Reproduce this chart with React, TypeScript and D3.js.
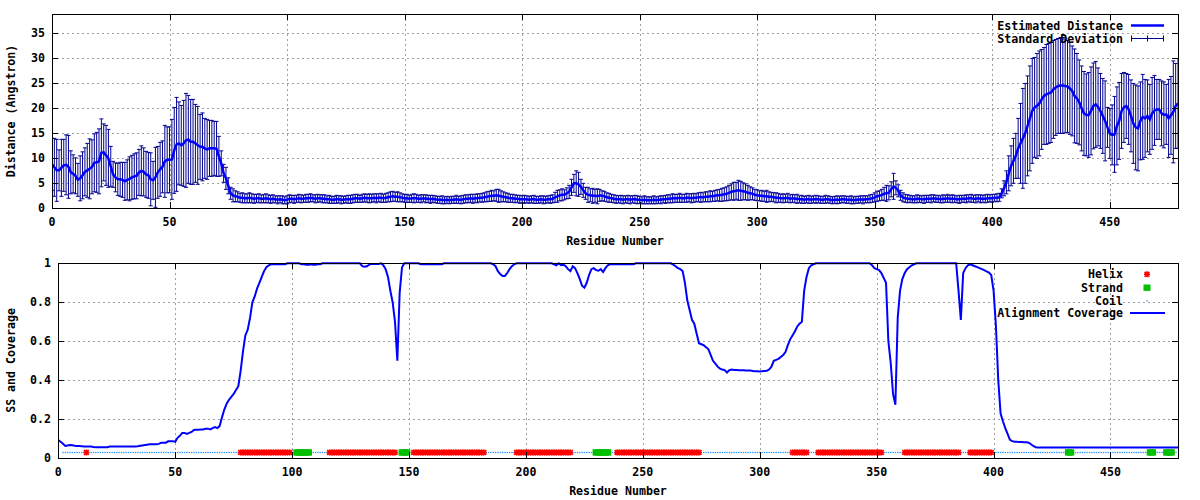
import React from "react";
import * as d3 from "d3";

// ---------- DATA ----------
const xTicks = [0, 50, 100, 150, 200, 250, 300, 350, 400, 450];
const yTicksTop = [0, 5, 10, 15, 20, 25, 30, 35];
const yTicksBot = [0, 0.2, 0.4, 0.6, 0.8, 1];

// Estimated distance (Angstrom), residue 0..479
const distMean = [
  8.8, 8.2, 7.6, 7.6, 8.1, 8.6, 8.7, 8.3, 7.2, 6.9,
  6.5, 5.7, 6.0, 6.6, 7.3, 7.6, 7.9, 8.3, 9.1, 9.2,
  9.4, 11.1, 11.2, 10.6, 10.0, 8.4, 6.8, 6.2, 5.8, 5.8,
  5.7, 5.4, 5.7, 5.9, 6.2, 6.4, 6.5, 7.2, 7.5, 7.3,
  6.8, 6.6, 5.8, 5.6, 6.2, 7.2, 7.8, 8.3, 9.4, 9.7,
  9.7, 9.8, 11.6, 12.8, 13.0, 12.6, 13.0, 13.6, 13.8, 13.3,
  13.3, 13.0, 12.6, 12.3, 12.3, 12.0, 11.8, 12.0, 12.0, 12.0,
  11.9, 10.4, 9.0, 7.0, 6.0, 4.5, 3.0, 2.6, 2.4, 2.3,
  2.1, 2.1, 2.0, 2.0, 2.1, 2.0, 1.9, 2.0, 2.0, 1.9,
  1.9, 2.0, 1.9, 1.8, 1.9, 1.8, 1.7, 1.8, 1.7, 1.6,
  1.7, 1.9, 1.9, 1.8, 1.9, 2.0, 1.9, 1.9, 2.0, 2.0,
  2.1, 2.0, 1.9, 2.0, 2.0, 1.9, 1.9, 1.8, 1.8, 1.7,
  1.7, 1.8, 1.8, 1.7, 1.7, 1.8, 1.8, 1.8, 1.9, 2.0,
  2.0, 1.9, 2.0, 2.1, 2.0, 2.0, 2.0, 2.1, 2.0, 2.1,
  2.1, 2.0, 2.1, 2.2, 2.3, 2.4, 2.3, 2.3, 2.2, 2.1,
  2.0, 2.0, 1.9, 2.0, 2.0, 2.0, 1.9, 1.9, 2.0, 1.9,
  1.9, 1.8, 1.9, 1.8, 1.7, 1.7, 1.7, 1.6, 1.7, 1.6,
  1.7, 1.7, 1.8, 1.7, 1.7, 1.8, 1.9, 1.9, 2.0, 1.9,
  2.0, 2.0, 2.1, 2.1, 2.2, 2.3, 2.4, 2.5, 2.5, 2.6,
  2.5, 2.4, 2.3, 2.2, 2.1, 2.0, 2.0, 1.9, 1.9, 1.8,
  1.8, 1.8, 1.8, 1.7, 1.8, 1.8, 1.7, 1.7, 1.8, 1.7,
  1.7, 1.8, 1.8, 1.9, 2.2, 2.4, 2.6, 2.7, 2.7, 3.0,
  3.3, 4.2, 5.0, 5.0, 4.8, 4.3, 3.6, 3.0, 2.7, 2.6,
  2.5, 2.5, 2.4, 2.6, 2.5, 2.4, 2.2, 2.1, 2.0, 1.9,
  1.8, 1.8, 1.8, 1.7, 1.8, 1.8, 1.7, 1.8, 1.8, 1.7,
  1.7, 1.6, 1.7, 1.6, 1.6, 1.6, 1.7, 1.6, 1.7, 1.7,
  1.8, 1.8, 1.9, 1.9, 2.0, 2.0, 2.0, 2.1, 2.0, 2.0,
  2.1, 2.1, 2.0, 2.1, 2.1, 2.2, 2.2, 2.2, 2.3, 2.3,
  2.4, 2.4, 2.5, 2.6, 2.6, 2.7, 2.8, 2.9, 3.1, 3.3,
  3.4, 3.5, 3.6, 3.5, 3.4, 3.3, 3.1, 3.0, 2.9, 2.7,
  2.6, 2.5, 2.5, 2.4, 2.4, 2.3, 2.3, 2.2, 2.1, 2.1,
  2.0, 2.0, 2.0, 2.1, 1.9, 2.0, 1.9, 1.9, 1.8, 1.8,
  1.7, 1.8, 1.8, 1.7, 1.8, 1.8, 1.8, 1.7, 1.7, 1.8,
  1.8, 1.7, 1.6, 1.7, 1.7, 1.7, 1.8, 1.8, 1.7, 1.7,
  1.7, 1.6, 1.7, 1.7, 1.8, 1.7, 1.8, 1.8, 1.9, 2.0,
  2.2, 2.4, 2.5, 2.7, 2.9, 3.0, 3.1, 3.8, 4.4, 4.1,
  3.5, 2.6, 2.2, 2.0, 1.9, 1.9, 1.8, 1.8, 1.9, 1.9,
  1.8, 1.8, 1.9, 1.9, 1.9, 2.0, 1.9, 1.9, 1.8, 1.9,
  1.9, 2.0, 1.9, 1.9, 1.9, 1.8, 1.8, 1.9, 1.9, 1.9,
  2.0, 2.0, 1.9, 1.9, 2.0, 1.9, 1.9, 1.9, 2.0, 2.0,
  2.0, 2.1, 2.1, 2.2, 3.0, 4.0, 5.2, 7.0, 8.5, 9.5,
  10.5, 12.0, 13.0, 14.0, 15.0, 16.5, 18.0, 19.5, 20.2, 20.5,
  21.0, 21.8, 22.5, 22.8, 23.0, 23.2, 23.8, 24.2, 24.5, 24.6,
  24.6, 24.5, 24.4, 24.0, 23.5, 22.5, 22.0, 21.2, 20.0, 19.0,
  18.7, 18.7, 19.5, 20.5, 20.8, 20.3, 19.5, 18.5, 17.5, 16.2,
  15.0, 14.7, 14.8, 16.5, 17.5, 19.5, 20.2, 20.5, 19.8, 18.5,
  17.0, 16.2, 16.0, 17.5, 18.3, 18.0, 18.5, 17.8, 19.0, 19.6,
  19.8, 19.8, 19.0, 18.7, 18.8, 18.0, 18.6, 19.3, 20.5, 21.0,
];

// Standard deviation, residue 0..479
const distSd = [
  5.2, 5.8, 6.2, 4.1, 5.7, 5.2, 6.0, 6.3, 4.3, 3.8,
  3.6, 3.3, 4.5, 4.7, 4.8, 5.4, 6.0, 5.4, 5.8, 6.0,
  6.5, 6.8, 5.7, 6.0, 5.8, 4.0, 2.6, 2.9, 3.2, 3.4,
  3.5, 3.8, 4.0, 4.4, 4.4, 4.5, 4.6, 4.6, 5.0, 4.8,
  4.6, 4.6, 5.3, 3.8, 6.0, 5.2, 5.4, 5.2, 7.2, 6.6,
  6.6, 8.0, 8.6, 9.4, 8.3, 8.0, 8.6, 9.4, 8.8, 8.5,
  8.5, 7.8, 7.8, 6.5, 6.8, 6.0, 6.0, 5.6, 5.6, 5.4,
  5.5, 4.0, 2.5, 1.8, 2.2, 1.6, 1.2, 1.3, 1.1, 1.0,
  0.9, 1.0, 0.9, 0.9, 1.0, 0.9, 0.9, 0.8, 0.9, 0.8,
  0.8, 0.9, 0.8, 0.8, 0.8, 0.7, 0.8, 0.7, 0.8, 0.7,
  0.8, 0.8, 0.7, 0.8, 0.7, 0.8, 0.8, 0.7, 0.8, 0.8,
  0.8, 0.7, 0.8, 0.8, 0.7, 0.8, 0.8, 0.7, 0.8, 0.7,
  0.7, 0.8, 0.7, 0.8, 0.7, 0.7, 0.8, 0.8, 0.8, 0.8,
  0.8, 0.7, 0.8, 0.8, 0.8, 0.9, 0.8, 0.8, 0.9, 0.8,
  0.9, 0.8, 0.9, 0.9, 1.0, 1.0, 0.9, 1.0, 0.9, 0.8,
  0.8, 0.8, 0.7, 0.8, 0.9, 0.8, 0.7, 0.8, 0.7, 0.8,
  0.7, 0.8, 0.7, 0.7, 0.7, 0.7, 0.8, 0.7, 0.7, 0.7,
  0.7, 0.7, 0.8, 0.7, 0.8, 0.8, 0.8, 0.8, 0.8, 0.9,
  0.8, 0.9, 0.8, 0.9, 0.9, 1.0, 1.0, 1.1, 1.0, 1.2,
  1.3, 1.1, 1.0, 0.9, 0.9, 0.8, 0.8, 0.8, 0.7, 0.8,
  0.7, 0.8, 0.7, 0.7, 0.7, 0.8, 0.7, 0.7, 0.7, 0.8,
  0.7, 0.7, 0.8, 0.8, 1.0, 1.2, 1.1, 1.2, 1.0, 1.1,
  1.3, 1.6, 1.8, 2.5, 2.4, 1.5, 1.4, 1.2, 1.5, 1.3,
  1.5, 1.3, 1.5, 1.2, 1.0, 1.0, 0.9, 0.9, 0.8, 0.8,
  0.8, 0.7, 0.8, 0.8, 0.7, 0.8, 0.8, 0.7, 0.8, 0.8,
  0.7, 0.7, 0.8, 0.7, 0.7, 0.7, 0.8, 0.7, 0.7, 0.8,
  0.7, 0.8, 0.8, 0.8, 0.9, 0.8, 0.8, 0.9, 0.8, 0.8,
  0.9, 0.8, 0.9, 0.9, 0.8, 0.9, 1.0, 0.9, 1.0, 1.0,
  1.1, 1.0, 1.1, 1.1, 1.2, 1.3, 1.3, 1.4, 1.5, 1.6,
  1.8, 1.7, 2.0, 1.9, 1.7, 1.6, 1.5, 1.3, 1.2, 1.1,
  1.1, 1.0, 1.1, 1.0, 1.2, 1.0, 0.9, 0.9, 1.0, 0.9,
  0.8, 0.9, 0.8, 0.9, 0.8, 0.8, 0.8, 0.9, 0.7, 0.8,
  0.7, 0.7, 0.8, 0.7, 0.7, 0.8, 0.7, 0.7, 0.7, 0.8,
  0.7, 0.7, 0.7, 0.7, 0.8, 0.7, 0.7, 0.7, 0.7, 0.7,
  0.8, 0.7, 0.7, 0.7, 0.7, 0.8, 0.7, 0.7, 0.8, 0.8,
  0.9, 1.0, 1.0, 1.1, 1.3, 1.6, 1.4, 1.5, 2.6, 1.4,
  1.2, 1.0, 0.9, 0.8, 0.8, 0.7, 0.7, 0.7, 0.8, 0.7,
  0.7, 0.8, 0.7, 0.7, 0.8, 0.7, 0.7, 0.7, 0.7, 0.8,
  0.7, 0.8, 0.7, 0.8, 0.7, 0.7, 0.8, 0.7, 0.7, 0.8,
  0.7, 0.8, 0.7, 0.8, 0.7, 0.8, 0.7, 0.8, 0.8, 0.7,
  0.8, 0.7, 0.8, 0.8, 0.9, 1.5, 2.3, 3.5, 4.0, 4.5,
  4.5, 6.0, 8.0, 10.0, 10.0, 10.0, 10.5, 10.5, 10.0, 10.5,
  10.5, 10.0, 9.7, 10.0, 10.0, 10.0, 9.8, 9.6, 9.5, 9.6,
  9.6, 9.4, 9.2, 9.2, 9.0, 9.4, 9.0, 8.5, 8.5, 8.4,
  8.2, 8.5, 8.8, 8.6, 8.6, 7.8, 7.5, 7.5, 8.0, 4.0,
  5.0, 6.0, 7.6, 7.8, 7.7, 7.5, 7.0, 6.5, 7.0, 7.2,
  8.0, 8.5, 8.5, 7.8, 8.5, 7.8, 7.2, 7.0, 7.2, 7.0,
  6.0, 6.0, 6.5, 6.6, 6.0, 7.8, 7.8, 10.2, 8.5, 9.0,
];

// Alignment coverage, residue 0..479
const coverage = [
  0.094, 0.085, 0.075, 0.063, 0.066, 0.068, 0.067, 0.064, 0.063, 0.063,
  0.062, 0.061, 0.060, 0.060, 0.060, 0.058, 0.057, 0.057, 0.057, 0.057,
  0.057, 0.057, 0.060, 0.060, 0.060, 0.060, 0.060, 0.060, 0.060, 0.060,
  0.060, 0.060, 0.061, 0.061, 0.062, 0.064, 0.066, 0.068, 0.070, 0.072,
  0.072, 0.072, 0.072, 0.074, 0.080, 0.080, 0.080, 0.087, 0.088, 0.088,
  0.085, 0.105, 0.115, 0.130, 0.130, 0.125, 0.130, 0.135, 0.145, 0.147,
  0.147, 0.148, 0.148, 0.152, 0.152, 0.148, 0.155, 0.160, 0.155, 0.165,
  0.210, 0.250, 0.280, 0.300, 0.315, 0.330, 0.350, 0.370, 0.450, 0.550,
  0.630, 0.660, 0.720, 0.800, 0.830, 0.870, 0.900, 0.930, 0.960, 0.980,
  0.990, 0.995, 0.995, 0.995, 0.995, 0.995, 0.995, 0.995, 1.0, 1.0,
  1.0, 1.0, 1.0, 1.0, 0.995, 0.995, 0.993, 0.993, 0.995, 0.993,
  0.993, 0.995, 0.995, 1.0, 1.0, 1.0, 1.0, 1.0, 1.0, 1.0,
  1.0, 1.0, 1.0, 1.0, 1.0, 1.0, 1.0, 1.0, 1.0, 1.0,
  0.985, 0.982, 0.985, 0.993, 0.997, 0.997, 0.997, 0.997, 1.0, 0.99,
  0.97, 0.93, 0.86, 0.80, 0.70, 0.50, 0.85, 0.98, 1.0, 1.0,
  1.0, 1.0, 1.0, 1.0, 1.0, 0.995, 0.995, 0.995, 0.995, 0.995,
  0.995, 0.995, 0.995, 0.995, 0.995, 1.0, 1.0, 1.0, 1.0, 1.0,
  1.0, 1.0, 1.0, 1.0, 1.0, 1.0, 1.0, 1.0, 1.0, 1.0,
  1.0, 1.0, 1.0, 1.0, 1.0, 1.0, 0.995, 0.985, 0.96, 0.945,
  0.935, 0.935, 0.95, 0.97, 0.985, 0.995, 1.0, 1.0, 1.0, 1.0,
  1.0, 1.0, 1.0, 1.0, 1.0, 1.0, 1.0, 1.0, 1.0, 1.0,
  1.0, 1.0, 0.995, 0.99, 1.0, 0.99, 0.993, 0.985, 0.97, 0.96,
  0.985, 0.975, 0.95, 0.92, 0.885, 0.875, 0.90, 0.94, 0.97, 0.975,
  0.965, 0.962, 0.97, 0.955, 0.975, 0.99, 0.995, 0.995, 0.995, 0.995,
  0.995, 0.995, 0.995, 0.995, 0.995, 0.995, 0.995, 1.0, 1.0, 1.0,
  1.0, 1.0, 1.0, 1.0, 1.0, 1.0, 1.0, 1.0, 1.0, 1.0,
  1.0, 1.0, 1.0, 0.993, 0.985, 0.975, 0.97, 0.96, 0.90, 0.81,
  0.76, 0.71, 0.69, 0.64, 0.59, 0.585, 0.58, 0.57, 0.56, 0.53,
  0.50, 0.485, 0.47, 0.46, 0.455, 0.452, 0.44, 0.452, 0.455, 0.453,
  0.453, 0.452, 0.452, 0.452, 0.450, 0.450, 0.450, 0.448, 0.447, 0.446,
  0.445, 0.447, 0.448, 0.449, 0.455, 0.470, 0.500, 0.505, 0.510, 0.520,
  0.530, 0.545, 0.580, 0.610, 0.630, 0.650, 0.675, 0.690, 0.700, 0.860,
  0.930, 0.975, 0.990, 0.995, 1.0, 1.0, 1.0, 1.0, 1.0, 1.0,
  1.0, 1.0, 1.0, 1.0, 1.0, 1.0, 1.0, 1.0, 1.0, 1.0,
  1.0, 1.0, 1.0, 1.0, 1.0, 1.0, 1.0, 1.0, 0.99, 0.975,
  0.97, 0.965, 0.95, 0.925, 0.90, 0.60, 0.49, 0.33, 0.275, 0.72,
  0.86, 0.92, 0.95, 0.97, 0.98, 0.99, 0.995, 1.0, 1.0, 1.0,
  1.0, 1.0, 1.0, 1.0, 1.0, 1.0, 1.0, 1.0, 1.0, 1.0,
  1.0, 1.0, 1.0, 1.0, 1.0, 0.86, 0.71, 0.95, 0.975, 0.99,
  0.995, 0.99, 0.985, 0.98, 0.975, 0.97, 0.965, 0.958, 0.952, 0.94,
  0.86, 0.68, 0.40, 0.23, 0.19, 0.155, 0.125, 0.095, 0.088, 0.085,
  0.085, 0.083, 0.083, 0.082, 0.082, 0.080, 0.072, 0.063, 0.057, 0.056,
  0.056, 0.056, 0.056, 0.056, 0.056, 0.056, 0.056, 0.056, 0.056, 0.056,
  0.056, 0.056, 0.056, 0.056, 0.056, 0.056, 0.056, 0.056, 0.056, 0.056,
  0.056, 0.056, 0.056, 0.056, 0.056, 0.056, 0.056, 0.056, 0.056, 0.056,
  0.056, 0.056, 0.056, 0.056, 0.056, 0.056, 0.056, 0.056, 0.056, 0.056,
  0.056, 0.056, 0.056, 0.056, 0.056, 0.056, 0.056, 0.056, 0.056, 0.056,
  0.056, 0.056, 0.056, 0.056, 0.056, 0.056, 0.056, 0.056, 0.056, 0.056,
];

// Secondary structure segments [start, end] (residue numbers)
const helixSegments = [
  [12, 12], [78, 99], [116, 144], [152, 182], [196, 219], [239, 274],
  [314, 320], [325, 352], [362, 385], [390, 399],
];
const strandSegments = [
  [102, 107], [147, 149], [230, 235], [432, 433], [467, 468], [474, 476],
];
const coilRange = [2, 478];
const ssLevel = 0.03;

// ---------- STYLE ----------
const FONT = {
  fontFamily: '"DejaVu Sans Mono", "Liberation Mono", monospace',
  fontWeight: "bold" as const,
  fontSize: 11.6,
  fill: "#000",
};
const GRID = "#a0a0a0";
const LINE_BLUE = "#0000ff";
const ERR_BLUE = "#000090";
const HELIX_RED = "#ff0000";
const STRAND_GREEN = "#00c000";
const COIL_BLUE = "#1e8cff";

type Panel = { left: number; right: number; top: number; bottom: number };

function Frame({ p, xs, ys, xt, yt, yfmt }: any) {
  const tl = 6;
  return (
    <g>
      {/* grid */}
      {xt.filter((t: number) => t !== 0).map((t: number) => (
        <line key={"gx" + t} x1={Math.round(xs(t)) + 0.5} x2={Math.round(xs(t)) + 0.5} y1={p.top} y2={p.bottom}
          stroke={GRID} strokeDasharray="2,3" />
      ))}
      {yt.filter((t: number) => t !== 0).map((t: number) => (
        <line key={"gy" + t} x1={p.left} x2={p.right} y1={Math.round(ys(t)) + 0.5} y2={Math.round(ys(t)) + 0.5}
          stroke={GRID} strokeDasharray="2,3" />
      ))}
    </g>
  );
}

function Axes({ p, xs, ys, xt, yt, yfmt, xLabelY, yTitle, xTitleY }: any) {
  const tl = 6;
  return (
    <g>
      <rect x={p.left + 0.5} y={p.top + 0.5} width={p.right - p.left} height={p.bottom - p.top}
        fill="none" stroke="#000" strokeWidth={1} shapeRendering="crispEdges" />
      {xt.map((t: number) => {
        const x = Math.round(xs(t)) + 0.5;
        return (
          <g key={"xt" + t}>
            <line x1={x} x2={x} y1={p.bottom} y2={p.bottom - tl} stroke="#000" shapeRendering="crispEdges" />
            <line x1={x} x2={x} y1={p.top} y2={p.top + tl} stroke="#000" shapeRendering="crispEdges" />
            <text x={xs(t)} y={xLabelY} textAnchor="middle" dominantBaseline="central" {...FONT}>{t}</text>
          </g>
        );
      })}
      {yt.map((t: number) => {
        const y = Math.round(ys(t)) + 0.5;
        return (
          <g key={"yt" + t}>
            <line x1={p.left} x2={p.left + tl} y1={y} y2={y} stroke="#000" shapeRendering="crispEdges" />
            <line x1={p.right} x2={p.right - tl} y1={y} y2={y} stroke="#000" shapeRendering="crispEdges" />
            <text x={p.left - 7} y={ys(t)} textAnchor="end" dominantBaseline="central" {...FONT}>{yfmt(t)}</text>
          </g>
        );
      })}
      <text x={(p.left + p.right) / 2} y={xTitleY} textAnchor="middle" dominantBaseline="central" {...FONT}>
        Residue Number
      </text>
      <text transform={`translate(11,${(p.top + p.bottom) / 2}) rotate(-90)`} textAnchor="middle"
        dominantBaseline="central" {...FONT}>{yTitle}</text>
    </g>
  );
}

function helixPath(x: number, y: number, s: number) {
  return `M${x - s},${y}L${x + s},${y}M${x},${y - s}L${x},${y + s}` +
    `M${x - s * 0.8},${y - s * 0.8}L${x + s * 0.8},${y + s * 0.8}M${x - s * 0.8},${y + s * 0.8}L${x + s * 0.8},${y - s * 0.8}`;
}

export default function App() {
  const topP: Panel = { left: 52, right: 1178, top: 14, bottom: 208 };
  const botP: Panel = { left: 58, right: 1178, top: 263, bottom: 458 };

  const xTop = d3.scaleLinear().domain([0, 479]).range([topP.left, topP.right]);
  const yTop = d3.scaleLinear().domain([0, 38.9]).range([208.3, topP.top]);
  const xBot = d3.scaleLinear().domain([0, 479]).range([58.3, 1178.3]);
  const yBot = d3.scaleLinear().domain([0, 1]).range([458.3, 263.3]);

  const meanLine = d3.line<number>().x((_, i) => xTop(i)).y((d) => yTop(d))(distMean) || "";
  const covLine = d3.line<number>().x((_, i) => xBot(i)).y((d) => yBot(d))(coverage) || "";

  const inSeg = (segs: number[][], r: number) => segs.some(([a, b]) => r >= a && r <= b);
  const helixRes: number[] = [];
  helixSegments.forEach(([a, b]) => { for (let r = a; r <= b; r++) helixRes.push(r); });
  const strandRes: number[] = [];
  strandSegments.forEach(([a, b]) => { for (let r = a; r <= b; r++) strandRes.push(r); });
  const coilRes: number[] = [];
  for (let r = coilRange[0]; r <= coilRange[1]; r++) {
    if (!inSeg(helixSegments, r) && !inSeg(strandSegments, r)) coilRes.push(r);
  }
  const ssY = yBot(ssLevel);
  const fmtBot = (t: number) => (t === 0 ? "0" : t === 1 ? "1" : String(t));

  return (
    <svg width={1200} height={500} style={{ position: "absolute", left: 0, top: 0, background: "#fff" }}>
      <rect width={1200} height={500} fill="#fff" />
      {/* ---------- TOP PANEL ---------- */}
      <Frame p={topP} xs={xTop} ys={yTop} xt={xTicks} yt={yTicksTop} />
      <defs>
        <clipPath id="clipTop"><rect x={topP.left} y={topP.top} width={topP.right - topP.left + 1} height={topP.bottom - topP.top + 1} /></clipPath>
        <clipPath id="clipBot"><rect x={botP.left} y={botP.top - 2} width={botP.right - botP.left + 1} height={botP.bottom - botP.top + 3} /></clipPath>
      </defs>
      <g clipPath="url(#clipTop)">
        {distMean.map((m, i) => {
          const x = xTop(i);
          const y1 = yTop(m + distSd[i]);
          const y2 = yTop(m - distSd[i]);
          return (
            <g key={"eb" + i} stroke={ERR_BLUE} strokeWidth={1}>
              <line x1={x} x2={x} y1={y1} y2={y2} />
              <line x1={x - 2} x2={x + 2} y1={y1} y2={y1} />
              <line x1={x - 2} x2={x + 2} y1={y2} y2={y2} />
            </g>
          );
        })}
        <path d={meanLine} fill="none" stroke={LINE_BLUE} strokeWidth={2.5} strokeLinejoin="miter" />
      </g>
      <Axes p={topP} xs={xTop} ys={yTop} xt={xTicks} yt={yTicksTop} yfmt={(t: number) => String(t)}
        xLabelY={221.5} xTitleY={240.5} yTitle="Distance (Angstron)" />
      {/* legend top */}
      <text x={1123} y={26} textAnchor="end" dominantBaseline="central" {...FONT}>Estimated Distance</text>
      <line x1={1131} x2={1164} y1={25.5} y2={25.5} stroke={LINE_BLUE} strokeWidth={2.5} />
      <text x={1123} y={38.7} textAnchor="end" dominantBaseline="central" {...FONT}>Standard Deviation</text>
      <g stroke={ERR_BLUE} strokeWidth={1}>
        <line x1={1131} x2={1164} y1={38.5} y2={38.5} />
        <line x1={1131.5} x2={1131.5} y1={35.5} y2={41.5} />
        <line x1={1163.5} x2={1163.5} y1={35.5} y2={41.5} />
        <line x1={1147.5} x2={1147.5} y1={35.5} y2={41.5} />
      </g>

      {/* ---------- BOTTOM PANEL ---------- */}
      <Frame p={botP} xs={xBot} ys={yBot} xt={xTicks} yt={yTicksBot} />
      <g clipPath="url(#clipBot)">
        {coilRes.map((r) => (
          <rect key={"c" + r} x={xBot(r) - 0.6} y={ssY - 0.6} width={1.3} height={1.3} fill={COIL_BLUE} />
        ))}
        {helixRes.map((r) => (
          <path key={"h" + r} d={helixPath(xBot(r), ssY, 3)} stroke={HELIX_RED} strokeWidth={1.6} fill="none" />
        ))}
        {strandRes.map((r) => (
          <rect key={"s" + r} x={xBot(r) - 3.5} y={ssY - 3.2} width={7} height={6.4} fill={STRAND_GREEN} />
        ))}
        <path d={covLine} fill="none" stroke={LINE_BLUE} strokeWidth={2} />
      </g>
      <Axes p={botP} xs={xBot} ys={yBot} xt={xTicks} yt={yTicksBot} yfmt={fmtBot}
        xLabelY={471.5} xTitleY={490.5} yTitle="SS and Coverage" />
      {/* legend bottom */}
      <text x={1123} y={274.3} textAnchor="end" dominantBaseline="central" {...FONT}>Helix</text>
      <path d={helixPath(1147, 274.3, 3)} stroke={HELIX_RED} strokeWidth={1.6} fill="none" />
      <text x={1123} y={287.7} textAnchor="end" dominantBaseline="central" {...FONT}>Strand</text>
      <rect x={1143.5} y={284.5} width={7} height={6.4} fill={STRAND_GREEN} />
      <text x={1123} y={300.7} textAnchor="end" dominantBaseline="central" {...FONT}>Coil</text>
      <rect x={1146.4} y={300.1} width={1.3} height={1.3} fill={COIL_BLUE} />
      <text x={1123} y={313.3} textAnchor="end" dominantBaseline="central" {...FONT}>Alignment Coverage</text>
      <line x1={1130} x2={1165} y1={313} y2={313} stroke={LINE_BLUE} strokeWidth={2} />
    </svg>
  );
}
